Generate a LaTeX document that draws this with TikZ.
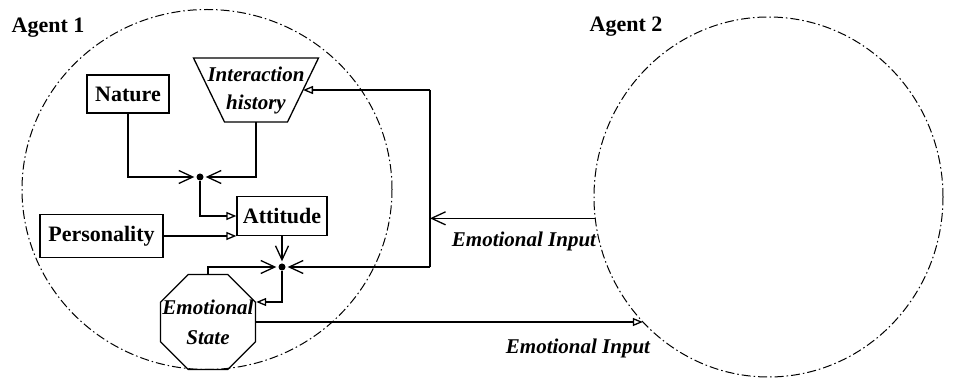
\documentclass[tikz,border=0pt]{standalone}
\usepackage{fontspec}
\setmainfont{Liberation Serif}
\usetikzlibrary{arrows.meta,shapes.geometric}
\begin{document}
\begin{tikzpicture}[x=1pt,y=-1pt,
  every node/.style={font=\fontsize{22}{28}\selectfont\bfseries, inner sep=0pt},
  ital/.style={font=\fontsize{21}{28}\selectfont\bfseries\itshape, inner sep=0pt},
  box/.style={draw, line width=1.3pt, rectangle},
  agent/.style={draw, ellipse, line width=1pt, dash pattern=on 9pt off 3pt on 1.5pt off 3pt},
  dot/.style={circle, fill, minimum size=7pt},
  wire/.style={line width=1.3pt},
  vee/.style={wire, -{Straight Barb[length=14pt,width=13pt,line width=1.3pt]}, shorten >=2pt},
  tri/.style={wire, -{Triangle[open,length=10pt,width=8pt,line width=1.3pt]}}
]
\useasboundingbox (0,0) rectangle (962,379);

% the two agents
\node[agent, minimum width=370pt, minimum height=360pt] (a1) at (207,189.5) {};
\node[agent, minimum width=349pt, minimum height=360pt] (a2) at (768.5,197) {};
\node (lab1) at (48,28) {Agent 1};
\node (lab2) at (626,27) {Agent 2};

% interaction history: an inverted trapezoid
\coordinate (ihtl) at (193.5,58);
\coordinate (ihtr) at (318.5,58);
\coordinate (ihbr) at (287.5,122);
\coordinate (ihbl) at (224.5,122);
\coordinate (ihs) at (256,122);
\coordinate (ihe) at (303,90);
\draw[line width=1.3pt, line join=miter] (ihtl) -- (ihtr) -- (ihbr) -- (ihbl) -- cycle;
\node[ital, align=center] (ih) at (256,90) {Interaction\\history};

% other components of agent 1
\node[box, minimum width=82pt, minimum height=38pt] (nat) at (128,94) {Nature};
\node[box, minimum width=90pt, minimum height=39pt] (att) at (282,216) {Attitude};
\node[box, minimum width=123pt, minimum height=43pt] (pers) at (101.5,236) {Personality};
\node[box, regular polygon, regular polygon sides=8, minimum size=103pt,
      label={[ital,align=center,font=\fontsize{21}{30}\selectfont\bfseries\itshape]center:Emotional\\State}] (es) at (208,322) {};

% junctions
\node[dot] (d1) at (200,177) {};
\node[dot] (d2) at (282,267) {};

% feedback line corners
\coordinate (ftop) at (430,90);
\coordinate (fbot) at (430,267);

% connectors
\draw[vee] (nat) |- (d1);
\draw[vee] (ihs) |- (d1);
\draw[tri] (d1) |- (att);
\draw[tri] (pers) -- (pers -| att.west);
\draw[vee] (att) -- (d2);
\draw[vee] (es) |- (d2);
\draw[tri] (d2) |- ([yshift=20pt]es.east);
\draw[wire] (ftop) -- (fbot);
\draw[tri] (ftop) -- (ihe);
\draw[vee] (fbot) -- (d2);
\draw[vee, shorten >=0pt] (a2.187) -- (a2.187 -| ftop);
\draw[tri] (es.east) -- (es.east -| a2.225);

% labels
\node[ital] (in1) at (524,241) {Emotional Input};
\node[ital] (in2) at (578,348) {Emotional Input};
\end{tikzpicture}
\end{document}
